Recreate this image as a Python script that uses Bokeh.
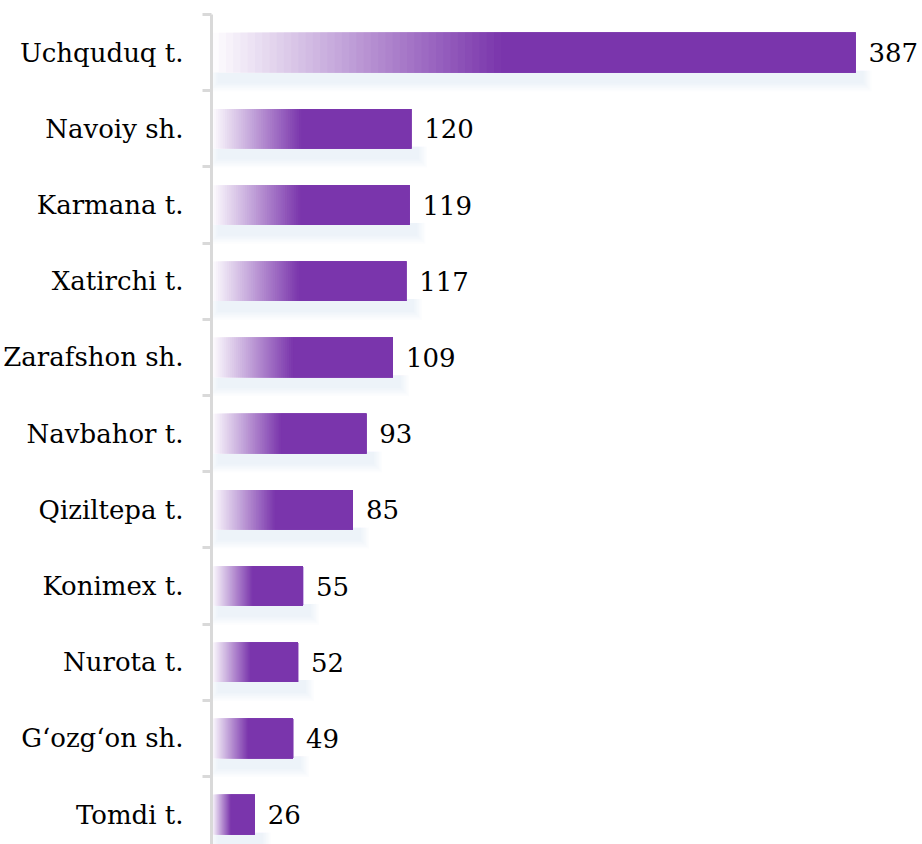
from bokeh.plotting import figure
from bokeh.models import Range1d, FixedTicker
from bokeh.core.properties import value
from bokeh.embed import file_html
from bokeh.resources import INLINE

# ---- data ----
categories = ["Uchquduq t.", "Navoiy sh.", "Karmana t.", "Xatirchi t.", "Zarafshon sh.",
              "Navbahor t.", "Qiziltepa t.", "Konimex t.", "Nurota t.", "G\u2018ozg\u2018on sh.", "Tomdi t."]
values = [387, 120, 119, 117, 109, 93, 85, 55, 52, 49, 26]

# ---- layout / style ----
FONT = "DejaVu Serif"
n = len(categories)
pos = [n - 1 - i for i in range(n)]
W, H = 922, 844
left_border, top_border = 211, 14
frame_w = W - left_border
frame_h = H - top_border
x_end = frame_w / 1.664
y_end = n - 0.5
y_start = y_end - frame_h / 76.2
xpx = x_end / frame_w
ypx = (y_end - y_start) / frame_h

purple = (122, 53, 172)
bar_h = 0.52

p = figure(width=W, height=H, output_backend="svg", toolbar_location=None,
           x_range=Range1d(0, x_end), y_range=Range1d(y_start, y_end),
           min_border_left=left_border, min_border_right=0,
           min_border_top=top_border, min_border_bottom=0)
p.outline_line_color = None
p.xgrid.visible = False
p.ygrid.visible = False
p.xaxis.visible = False
p.background_fill_color = "white"
p.border_fill_color = "white"

# shadows (soft, below bars)
layers = 6
for j in range(layers):
    grow = (layers - 1 - j) * 1.6
    p.quad(left=[6 * xpx - grow * xpx] * n,
           right=[v + 8 * xpx + grow * xpx for v in values],
           top=[y - bar_h / 2 + 2 * ypx for y in pos],
           bottom=[y - bar_h / 2 - 11 * ypx - grow * ypx for y in pos],
           fill_color="#CCD9EA", fill_alpha=0.06, line_color=None)

# gradient bars
steps = 40
frac = 0.45
for k in range(steps + 1):
    t = min(1.0, (k + 0.5) / steps)
    col = "#%02x%02x%02x" % tuple(int(round(255 + (c - 255) * t)) for c in purple)
    lefts = [v * frac * k / steps for v in values]
    p.quad(left=lefts, right=values,
           top=[y + bar_h / 2 for y in pos], bottom=[y - bar_h / 2 for y in pos],
           fill_color=col, line_color=None)

# value labels
p.text(x=values, y=pos, text=[str(v) for v in values], x_offset=13,
       text_align="left", text_baseline="middle",
       text_font=value(FONT), text_font_size="26px", text_color="black")

# y axis
ax = p.yaxis[0]
boundaries = [y_end - k for k in range(n + 1)]
ax.ticker = FixedTicker(ticks=pos, minor_ticks=boundaries)
ax.major_label_overrides = {pp: c for pp, c in zip(pos, categories)}
ax.major_label_text_font = FONT
ax.major_label_text_font_size = "26px"
ax.major_label_text_color = "black"
ax.major_label_standoff = 19
ax.major_tick_out = 0
ax.major_tick_in = 0
ax.minor_tick_out = 9
ax.minor_tick_in = 0
ax.minor_tick_line_color = "#D9D9D9"
ax.minor_tick_line_width = 3
ax.axis_line_color = "#D9D9D9"
ax.axis_line_width = 3

open("out.html", "w").write(file_html(p, INLINE))
